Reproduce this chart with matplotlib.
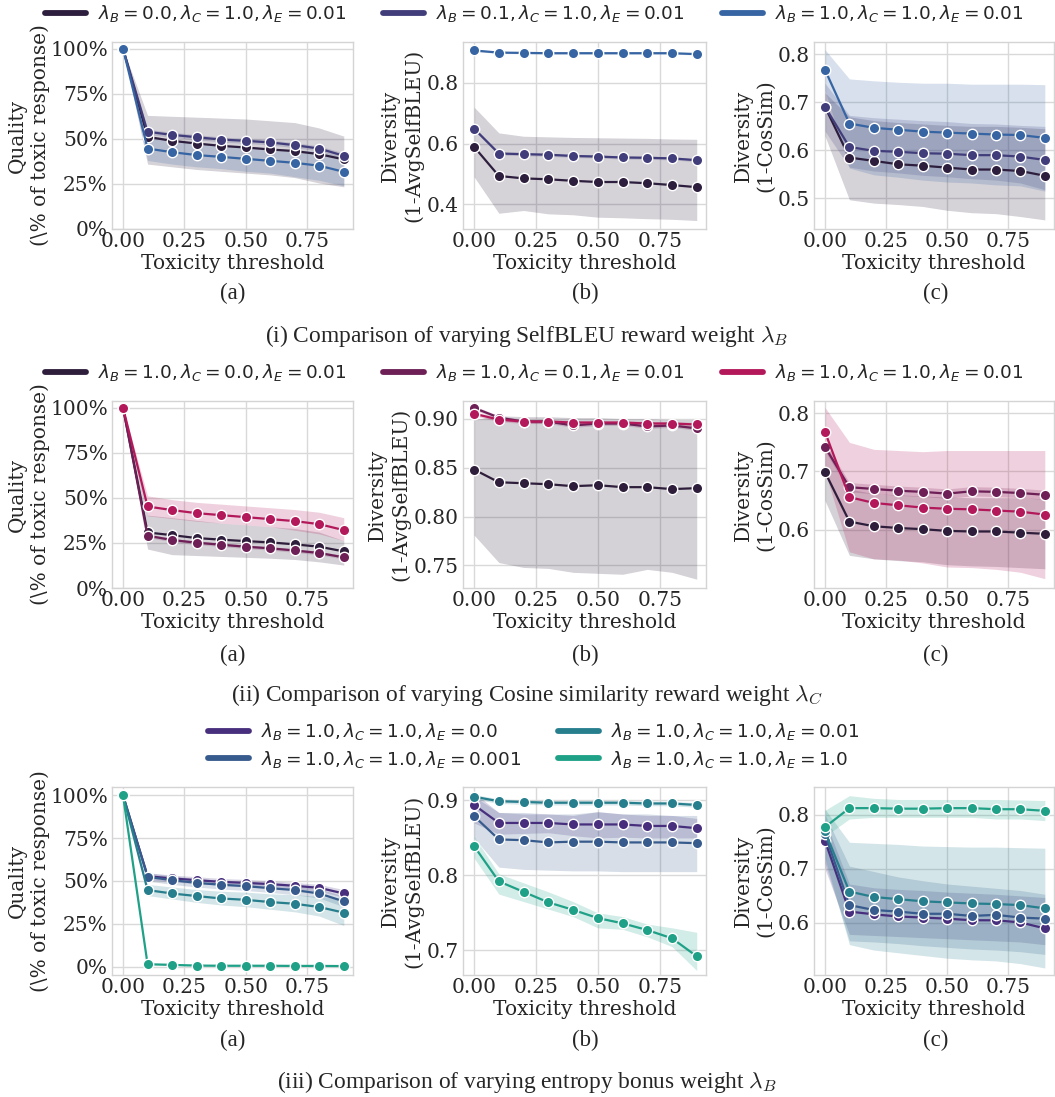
import matplotlib
matplotlib.use("Agg")
import matplotlib.pyplot as plt
from matplotlib.lines import Line2D
from matplotlib.ticker import PercentFormatter, FormatStrFormatter

W, H = 1055, 1097

X = [0.0, 0.1, 0.2, 0.3, 0.4, 0.5, 0.6, 0.7, 0.8, 0.9]

# ---------------- row (i): SelfBLEU weight lambda_B ----------------
R1_LABELS = [r"$\lambda_B = 0.0, \lambda_C = 1.0, \lambda_E = 0.01$",
             r"$\lambda_B = 0.1, \lambda_C = 1.0, \lambda_E = 0.01$",
             r"$\lambda_B = 1.0, \lambda_C = 1.0, \lambda_E = 0.01$"]
R1_COLORS = ["#2d1e3e", "#413d7b", "#3765a3"]

q1_mean = [[1.00, .511, .489, .474, .461, .452, .441, .432, .415, .386],
           [1.00, .539, .522, .509, .496, .489, .480, .465, .446, .406],
           [1.00, .446, .426, .410, .400, .389, .378, .367, .351, .317]]
q1_lo = [[1.00, .360, .345, .330, .320, .310, .300, .285, .255, .234],
         [1.00, .525, .508, .495, .482, .475, .466, .451, .432, .390],
         [1.00, .380, .360, .345, .335, .320, .310, .290, .270, .240]]
q1_hi = [[1.00, .630, .625, .620, .615, .610, .600, .590, .560, .515],
         [1.00, .553, .536, .523, .510, .503, .494, .479, .460, .422],
         [1.00, .510, .490, .475, .465, .455, .445, .440, .430, .395]]

b1_mean = [[.589, .493, .485, .482, .477, .473, .473, .469, .463, .456],
           [.649, .567, .565, .563, .559, .557, .554, .553, .551, .545],
           [.907, .900, .899, .898, .898, .898, .898, .898, .898, .895]]
b1_lo = [[.490, .370, .379, .368, .365, .357, .355, .352, .350, .346],
         [.643, .562, .560, .558, .554, .552, .549, .548, .546, .540],
         [.904, .897, .896, .895, .895, .895, .895, .895, .895, .892]]
b1_hi = [[.720, .635, .624, .622, .620, .619, .618, .617, .615, .614],
         [.655, .572, .570, .568, .564, .562, .559, .558, .556, .550],
         [.910, .903, .902, .901, .901, .901, .901, .901, .901, .898]]

c1_mean = [[.691, .585, .578, .571, .568, .564, .560, .560, .557, .547],
           [.691, .607, .599, .597, .594, .593, .590, .590, .587, .580],
           [.768, .656, .647, .643, .639, .637, .635, .633, .632, .626]]
c1_lo = [[.630, .497, .490, .487, .483, .475, .470, .468, .462, .455],
         [.640, .565, .557, .553, .548, .545, .541, .538, .532, .518],
         [.725, .563, .549, .544, .538, .534, .532, .528, .526, .515]]
c1_hi = [[.720, .670, .662, .658, .655, .652, .650, .650, .648, .645],
         [.740, .673, .668, .665, .662, .660, .656, .655, .652, .650],
         [.810, .749, .745, .742, .740, .740, .738, .738, .738, .737]]

# ---------------- row (ii): cosine similarity weight lambda_C ----------------
R2_LABELS = [r"$\lambda_B = 1.0, \lambda_C = 0.0, \lambda_E = 0.01$",
             r"$\lambda_B = 1.0, \lambda_C = 0.1, \lambda_E = 0.01$",
             r"$\lambda_B = 1.0, \lambda_C = 1.0, \lambda_E = 0.01$"]
R2_COLORS = ["#2e1e3b", "#6d1f56", "#b3185a"]

q2_mean = [[1.00, .308, .293, .277, .268, .260, .253, .242, .229, .203],
           [1.00, .290, .266, .251, .240, .229, .220, .208, .194, .170],
           [1.00, .452, .432, .415, .404, .393, .382, .371, .354, .321]]
q2_lo = [[1.00, .216, .185, .180, .175, .170, .165, .158, .145, .127],
         [1.00, .280, .256, .241, .230, .219, .210, .198, .184, .160],
         [1.00, .400, .385, .370, .360, .350, .340, .320, .300, .262]]
q2_hi = [[1.00, .404, .390, .375, .360, .350, .340, .330, .310, .262],
         [1.00, .300, .276, .261, .250, .239, .230, .218, .204, .180],
         [1.00, .511, .490, .475, .465, .455, .445, .435, .420, .390]]

b2_mean = [[.848, .835, .834, .833, .831, .832, .830, .830, .828, .829],
           [.911, .901, .897, .897, .893, .895, .895, .892, .893, .890],
           [.905, .899, .897, .897, .896, .896, .896, .895, .895, .894]]
b2_lo = [[.781, .753, .748, .747, .743, .742, .741, .746, .743, .736],
         [.909, .899, .895, .895, .891, .893, .893, .890, .891, .888],
         [.903, .897, .895, .895, .894, .894, .894, .893, .893, .892]]
b2_hi = [[.899, .903, .902, .902, .901, .901, .900, .900, .899, .899],
         [.913, .903, .899, .899, .895, .897, .897, .894, .895, .892],
         [.907, .901, .899, .899, .898, .898, .898, .897, .897, .896]]

c2_mean = [[.699, .614, .606, .603, .601, .598, .597, .597, .595, .593],
           [.742, .673, .670, .667, .665, .662, .666, .665, .663, .660],
           [.768, .656, .646, .642, .638, .636, .635, .633, .631, .626]]
c2_lo = [[.650, .556, .550, .547, .545, .540, .538, .537, .535, .533],
         [.735, .665, .662, .659, .657, .654, .658, .657, .655, .652],
         [.700, .562, .550, .548, .543, .536, .535, .532, .527, .516]]
c2_hi = [[.750, .670, .662, .660, .658, .656, .655, .655, .655, .653],
         [.750, .681, .678, .675, .673, .670, .674, .673, .671, .668],
         [.810, .750, .738, .736, .734, .736, .736, .736, .736, .736]]

# ---------------- row (iii): entropy bonus weight lambda_E ----------------
R3_LABELS = [r"$\lambda_B = 1.0, \lambda_C = 1.0, \lambda_E = 0.0$",
             r"$\lambda_B = 1.0, \lambda_C = 1.0, \lambda_E = 0.001$",
             r"$\lambda_B = 1.0, \lambda_C = 1.0, \lambda_E = 0.01$",
             r"$\lambda_B = 1.0, \lambda_C = 1.0, \lambda_E = 1.0$"]
R3_COLORS = ["#472f7d", "#375b8d", "#277f8e", "#1fa187"]

q3_mean = [[1.00, .528, .515, .505, .495, .489, .482, .472, .460, .427],
           [1.00, .524, .505, .489, .478, .470, .458, .447, .427, .381],
           [1.00, .447, .427, .412, .398, .390, .377, .367, .348, .315],
           [1.00, .014, .010, .006, .005, .005, .005, .004, .004, .003]]
q3_lo = [[1.00, .508, .495, .485, .475, .469, .462, .452, .440, .405],
         [1.00, .500, .480, .465, .453, .445, .433, .420, .400, .350],
         [1.00, .415, .395, .375, .360, .350, .335, .320, .295, .240],
         [1.00, .011, .007, .004, .003, .003, .003, .002, .002, .001]]
q3_hi = [[1.00, .548, .535, .525, .515, .509, .502, .492, .480, .450],
         [1.00, .548, .530, .513, .503, .495, .483, .474, .454, .412],
         [1.00, .480, .465, .450, .440, .435, .425, .420, .410, .395],
         [1.00, .017, .013, .009, .007, .007, .007, .006, .006, .005]]

b3_mean = [[.894, .870, .870, .870, .868, .868, .868, .866, .866, .863],
           [.879, .848, .847, .844, .845, .845, .844, .844, .844, .843],
           [.905, .899, .898, .897, .897, .897, .897, .896, .896, .894],
           [.839, .792, .778, .764, .754, .743, .736, .727, .716, .692]]
b3_lo = [[.870, .855, .856, .857, .853, .850, .851, .850, .850, .850],
         [.850, .811, .808, .807, .806, .806, .805, .805, .805, .805],
         [.902, .896, .895, .894, .894, .894, .894, .893, .893, .891],
         [.823, .775, .765, .755, .745, .730, .728, .718, .705, .673]]
b3_hi = [[.910, .884, .882, .882, .880, .885, .882, .880, .880, .876],
         [.905, .884, .884, .882, .882, .885, .882, .882, .880, .880],
         [.908, .902, .901, .900, .900, .900, .900, .899, .899, .897],
         [.852, .802, .790, .778, .765, .750, .745, .735, .730, .724]]

c3_mean = [[.752, .621, .616, .612, .610, .608, .605, .605, .601, .590],
           [.764, .633, .624, .621, .617, .617, .613, .615, .610, .608],
           [.769, .658, .648, .644, .640, .638, .636, .635, .633, .627],
           [.777, .812, .812, .811, .811, .812, .812, .810, .810, .807]]
c3_lo = [[.700, .579, .577, .575, .573, .571, .569, .567, .565, .560],
         [.710, .567, .565, .562, .558, .555, .552, .550, .547, .542],
         [.720, .560, .550, .545, .540, .535, .532, .530, .525, .517],
         [.760, .792, .795, .795, .795, .795, .795, .792, .792, .789]]
c3_hi = [[.790, .672, .665, .662, .660, .657, .655, .653, .650, .647],
         [.800, .705, .695, .685, .678, .672, .668, .664, .660, .653],
         [.810, .749, .747, .745, .742, .741, .740, .740, .739, .738],
         [.808, .835, .830, .828, .828, .828, .828, .828, .827, .826]]

plt.rcParams.update({
    "font.family": "DejaVu Serif",
    "axes.edgecolor": "#d4d4d4",
    "axes.linewidth": 1.0,
    "grid.color": "#d9d9d9",
    "grid.linewidth": 1.0,
    "xtick.major.size": 0,
    "ytick.major.size": 0,
    "xtick.labelsize": 14.5,
    "ytick.labelsize": 14.5,
    "axes.labelsize": 14.5,
    "xtick.color": "#262626",
    "ytick.color": "#262626",
    "axes.labelcolor": "#262626",
    "text.color": "#262626",
})

fig = plt.figure(figsize=(W / 100, H / 100), dpi=100)
fig.patch.set_facecolor("white")

COLS = [(112, 353), (463, 706), (814, 1054)]
ROWS = [(42, 229), (401, 588), (787, 975)]


def make_ax(col, row):
    l, r = COLS[col]
    t, b = ROWS[row]
    return fig.add_axes([l / W, 1 - b / H, (r - l) / W, (b - t) / H])


def panel(ax, means, lows, highs, colors, ylim, yticks, ylabel, lab_x, yfmt):
    for lo, hi, c in zip(lows, highs, colors):
        ax.fill_between(X, lo, hi, color=c, alpha=0.2, lw=0, zorder=2)
    for m, c in zip(means, colors):
        ax.plot(X, m, color=c, lw=1.6, marker="o", ms=7.5, mec="white",
                mew=1.0, zorder=3)
    ax.set_xlim(-0.045, 0.9375)
    ax.set_ylim(*ylim)
    ax.set_xticks([0, 0.25, 0.5, 0.75])
    ax.xaxis.set_major_formatter(FormatStrFormatter("%.2f"))
    ax.set_yticks(yticks)
    if yfmt == "pct":
        ax.yaxis.set_major_formatter(PercentFormatter(1.0, decimals=0))
    else:
        ax.yaxis.set_major_formatter(FormatStrFormatter(yfmt))
    ax.grid(True, zorder=0)
    ax.set_axisbelow(True)
    ax.tick_params(axis="x", pad=2)
    ax.tick_params(axis="y", pad=3)
    ax.set_xlabel("Toxicity threshold", labelpad=2)
    ax.set_ylabel(ylabel, linespacing=1.2)
    ax.yaxis.set_label_coords(lab_x, 0.5)


QLAB = "Quality\n(\\% of toxic response)"
SBLAB = "Diversity\n(1-AvgSelfBLEU)"
CSLAB = "Diversity\n(1-CosSim)"
PCT_TICKS = [0, 0.25, 0.5, 0.75, 1.0]

rows = [
    (R1_COLORS, [(q1_mean, q1_lo, q1_hi, (0, 1.037), PCT_TICKS, QLAB, "pct"),
                 (b1_mean, b1_lo, b1_hi, (0.318, 0.935), [0.4, 0.6, 0.8], SBLAB, "%.1f"),
                 (c1_mean, c1_lo, c1_hi, (0.436, 0.826), [0.5, 0.6, 0.7, 0.8], CSLAB, "%.1f")]),
    (R2_COLORS, [(q2_mean, q2_lo, q2_hi, (0, 1.037), PCT_TICKS, QLAB, "pct"),
                 (b2_mean, b2_lo, b2_hi, (0.727, 0.918), [0.75, 0.80, 0.85, 0.90], SBLAB, "%.2f"),
                 (c2_mean, c2_lo, c2_hi, (0.500, 0.821), [0.6, 0.7, 0.8], CSLAB, "%.1f")]),
    (R3_COLORS, [(q3_mean, q3_lo, q3_hi, (-0.049, 1.049), PCT_TICKS, QLAB, "pct"),
                 (b3_mean, b3_lo, b3_hi, (0.667, 0.918), [0.7, 0.8, 0.9], SBLAB, "%.1f"),
                 (c3_mean, c3_lo, c3_hi, (0.504, 0.851), [0.6, 0.7, 0.8], CSLAB, "%.1f")]),
]
LAB_X = [[-0.257, -0.164, -0.163],
         [-0.257, -0.218, -0.163],
         [-0.257, -0.164, -0.163]]

for ri, (colors, specs) in enumerate(rows):
    for ci, (m, lo, hi, ylim, yt, ylab, fmt) in enumerate(specs):
        ax = make_ax(ci, ri)
        panel(ax, m, lo, hi, colors, ylim, yt, ylab, LAB_X[ri][ci], fmt)


def legend_entry(x, y, color, text):
    h = Line2D([], [], color=color, lw=4.2, solid_capstyle="round")
    fig.legend(handles=[h], labels=[text], loc="center left",
               bbox_to_anchor=(x / W, 1 - y / H), frameon=False,
               borderpad=0, borderaxespad=0, handlelength=2.2,
               handletextpad=0.65,
               prop={"family": "DejaVu Sans", "size": 13.3})


for x, c, t in zip([45, 383, 722], R1_COLORS, R1_LABELS):
    legend_entry(x, 14, c, t)
for x, c, t in zip([45, 383, 722], R2_COLORS, R2_LABELS):
    legend_entry(x, 373, c, t)
for (x, y), c, t in zip([(208, 732), (208, 759), (558, 732), (558, 759)],
                        R3_COLORS, R3_LABELS):
    legend_entry(x, y, c, t)

# sub-captions
for y in [293, 655, 1040]:
    for cx, lab in zip([233, 585, 936], ["(a)", "(b)", "(c)"]):
        fig.text(cx / W, 1 - y / H, lab, ha="center", va="center",
                 family="Liberation Serif", size=16.5)

CAPTIONS = [r"(i) Comparison of varying SelfBLEU reward weight $\lambda_B$",
            r"(ii) Comparison of varying Cosine similarity reward weight $\lambda_C$",
            r"(iii) Comparison of varying entropy bonus weight $\lambda_B$"]
for y, cap in zip([336, 695, 1082], CAPTIONS):
    fig.text(527 / W, 1 - y / H, cap, ha="center", va="center",
             family="Liberation Serif", size=16.8, math_fontfamily="cm")

fig.savefig("out.png", dpi=100, facecolor="white")
